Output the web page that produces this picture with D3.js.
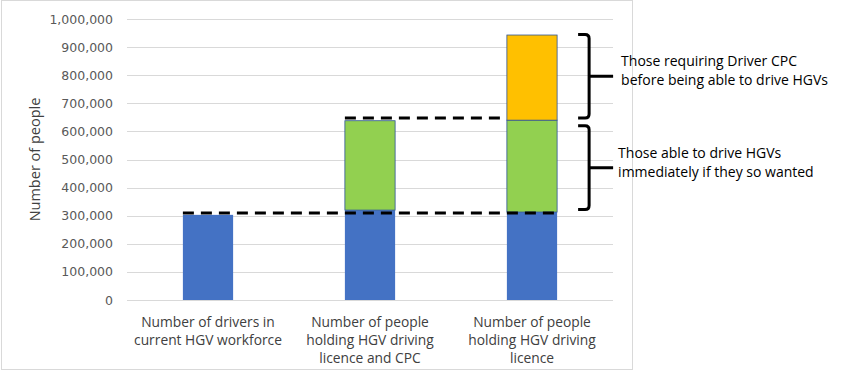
<!DOCTYPE html>
<html>
<head>
<meta charset="utf-8">
<script src="https://cdn.jsdelivr.net/npm/d3@7"></script>
<style>
  body { margin: 0; background: #fff; }
  svg { font-family: "Open Sans", "Liberation Sans", sans-serif; }
</style>
</head>
<body>
<svg class="chart"></svg>
<script>
// chart values
var categories = [
    ["Number of drivers in", "current HGV workforce"],
    ["Number of people", "holding HGV driving", "licence and CPC"],
    ["Number of people", "holding HGV driving", "licence"]
];
var workforce = [303000, 320000, 313000];
var immediate = [0, 318000, 327000];
var needCpc = [0, 0, 303000];
var yTicks = [0, 100000, 200000, 300000, 400000, 500000, 600000, 700000, 800000, 900000, 1000000];

// dashed reference lines: [value, fromCategory, toCategory]
var refLevels = [310000, 648000];
var refFrom = [0, 1];
var refTo = [2, 2];

// braces: [low, high] and label lines
var braceLow = [648000, 322000];
var braceHigh = [945000, 620000];
var braceText = [
    ["Those requiring Driver CPC", "before being able to drive HGVs"],
    ["Those able to drive HGVs", "immediately if they so wanted"]
];

const canvas = {width: 850, height: 380};
const margin = {top: 19, left: 127, right: 237, bottom: 80};
const chart_dimensions = {
    width: canvas.width - (margin.left + margin.right),
    height: canvas.height - (margin.top + margin.bottom)
};

var svg = d3.select(".chart")
    .attr("width", canvas.width)
    .attr("height", canvas.height);

// outer frame
svg.append("rect")
    .attr("x", 1.5).attr("y", 0.5)
    .attr("width", 631).attr("height", 369)
    .attr("fill", "#fff")
    .attr("stroke", "#d9d9d9");

const x = d3.scaleBand()
    .domain(d3.range(categories.length))
    .range([0, chart_dimensions.width])
    .paddingInner(0.69)
    .paddingOuter(0.345);

const y = d3.scaleLinear()
    .domain([0, 1000000])
    .range([chart_dimensions.height, 0]);

const chart = svg.append("g")
    .attr("transform", "translate(" + margin.left + "," + margin.top + ")");

// gridlines
chart.append("g")
    .selectAll("line")
    .data(yTicks)
    .enter()
    .append("line")
    .attr("x1", 0)
    .attr("x2", chart_dimensions.width)
    .attr("y1", function (d) { return Math.round(y(d)) + 0.5; })
    .attr("y2", function (d) { return Math.round(y(d)) + 0.5; })
    .attr("stroke", "#d9d9d9")
    .attr("stroke-width", 1);

// y axis labels
const yAxis = d3.axisLeft(y)
    .tickValues(yTicks)
    .tickFormat(d3.format(","))
    .tickSize(0)
    .tickPadding(14);

const yG = chart.append("g").call(yAxis);
yG.select(".domain").remove();
yG.selectAll("text")
    .attr("fill", "#595959")
    .style("font-size", "12.5px")
    .style("font-family", "'DejaVu Sans', sans-serif");

svg.append("text")
    .attr("transform", "translate(40," + (margin.top + chart_dimensions.height / 2) + ") rotate(-90)")
    .style("text-anchor", "middle")
    .style("font-size", "14.5px")
    .attr("fill", "#404040")
    .text("Number of people");

// stacked bars
const rows = categories.map(function (c, i) {
    return {i: i, workforce: workforce[i], immediate: immediate[i], needCpc: needCpc[i]};
});
const keys = ["workforce", "immediate", "needCpc"];
const colours = {workforce: "#4472c4", immediate: "#92d050", needCpc: "#ffc000"};
const stacked = d3.stack().keys(keys)(rows);

chart.selectAll(".series")
    .data(stacked)
    .enter()
    .append("g")
    .classed("series", true)
    .attr("fill", function (d) { return colours[d.key]; })
    .selectAll("rect")
    .data(function (d) { return d.filter(function (p) { return p[1] > p[0]; }).map(function (p) { p.key = d.key; return p; }); })
    .enter()
    .append("rect")
    .attr("x", function (d) { return x(d.data.i); })
    .attr("width", x.bandwidth())
    .attr("y", function (d) { return y(d[1]); })
    .attr("height", function (d) { return y(d[0]) - y(d[1]); })
    .attr("stroke", function (d) { return d.key === "workforce" ? "none" : "#2f5597"; })
    .attr("stroke-width", 0.8);

// dashed reference lines
chart.append("g")
    .selectAll("line")
    .data(refLevels)
    .enter()
    .append("line")
    .attr("x1", function (d, i) { return x(refFrom[i]); })
    .attr("x2", function (d, i) { return i === 0 ? x(refTo[i]) + x.bandwidth() : x(refTo[i]); })
    .attr("y1", function (d) { return y(d); })
    .attr("y2", function (d) { return y(d); })
    .attr("stroke", "#000")
    .attr("stroke-width", 3)
    .attr("stroke-dasharray", "11,7");

// braces
const bx = x(2) + x.bandwidth() + 21;
function bracePath(lo, hi) {
    const top = y(hi), bot = y(lo), mid = (top + bot) / 2;
    const w = 11, r = 4;
    return "M" + bx + "," + top +
        " L" + (bx + w - r) + "," + top +
        " Q" + (bx + w) + "," + top + " " + (bx + w) + "," + (top + r) +
        " L" + (bx + w) + "," + (bot - r) +
        " Q" + (bx + w) + "," + bot + " " + (bx + w - r) + "," + bot +
        " L" + bx + "," + bot +
        " M" + (bx + w) + "," + mid + " L" + (bx + w + 24) + "," + mid;
}

chart.append("g")
    .selectAll("path")
    .data(braceLow)
    .enter()
    .append("path")
    .attr("d", function (d, i) { return bracePath(d, braceHigh[i]); })
    .attr("fill", "none")
    .attr("stroke", "#000")
    .attr("stroke-width", 3);

braceText.forEach(function (lines, i) {
    const mid = (y(braceLow[i]) + y(braceHigh[i])) / 2;
    const tx = bx + 43 - (i === 1 ? 3 : 0);
    const t = chart.append("text")
        .attr("x", tx)
        .attr("y", mid - 10 - margin.top + 19)
        .style("font-size", "14px")
        .attr("fill", "#000");
    lines.forEach(function (l, j) {
        t.append("tspan")
            .attr("x", tx)
            .attr("dy", j === 0 ? 0 : 19)
            .text(l);
    });
});

// category labels
categories.forEach(function (lines, i) {
    const t = chart.append("text")
        .attr("x", x(i) + x.bandwidth() / 2)
        .attr("y", chart_dimensions.height + 27)
        .style("text-anchor", "middle")
        .style("font-size", "13.8px")
        .attr("fill", "#404040");
    lines.forEach(function (l, j) {
        t.append("tspan")
            .attr("x", x(i) + x.bandwidth() / 2)
            .attr("dy", j === 0 ? 0 : 18)
            .text(l);
    });
});
</script>
</body>
</html>
